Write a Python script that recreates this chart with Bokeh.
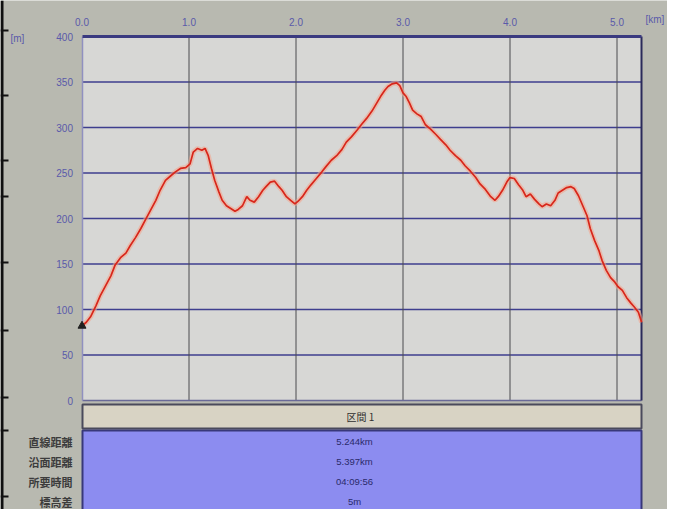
from bokeh.plotting import figure
from bokeh.models import Range1d, FixedTicker, NumeralTickFormatter
from bokeh.embed import file_html
from bokeh.resources import INLINE
from bokeh.core.properties import value

# ---- data ----
dist_km = [0.00, 0.04, 0.08, 0.13, 0.17, 0.22, 0.27, 0.31, 0.36, 0.41, 0.45, 0.50, 0.55, 0.59,
           0.64, 0.69, 0.73, 0.78, 0.83, 0.87, 0.92, 0.97, 1.01, 1.04, 1.08, 1.12, 1.15, 1.18,
           1.21, 1.24, 1.28, 1.31, 1.35, 1.39, 1.43, 1.46, 1.50, 1.54, 1.57, 1.61, 1.65, 1.69,
           1.72, 1.76, 1.80, 1.84, 1.87, 1.91, 1.95, 1.99, 2.02, 2.06, 2.10, 2.14, 2.19, 2.24,
           2.28, 2.33, 2.38, 2.43, 2.47, 2.52, 2.57, 2.61, 2.66, 2.71, 2.75, 2.79, 2.83, 2.86,
           2.90, 2.94, 2.97, 3.00, 3.03, 3.06, 3.09, 3.13, 3.17, 3.21, 3.26, 3.31, 3.35, 3.40,
           3.44, 3.49, 3.54, 3.58, 3.63, 3.68, 3.72, 3.77, 3.82, 3.86, 3.89, 3.93, 3.97, 4.00,
           4.04, 4.08, 4.12, 4.15, 4.19, 4.23, 4.27, 4.30, 4.34, 4.38, 4.42, 4.45, 4.49, 4.53,
           4.57, 4.60, 4.64, 4.68, 4.72, 4.75, 4.79, 4.83, 4.86, 4.90, 4.94, 4.98, 5.01, 5.05,
           5.09, 5.13, 5.16, 5.20, 5.23]
elev_m = [82, 86, 92, 104, 115, 126, 137, 149, 157, 162, 170, 179, 189, 198,
          209, 220, 231, 242, 247, 251, 255, 256, 260, 273, 277, 275, 277, 269,
          255, 242, 229, 220, 214, 211, 208, 210, 214, 224, 220, 218, 224, 231,
          235, 240, 241, 235, 231, 224, 220, 216, 219, 224, 231, 237, 244, 251,
          257, 264, 269, 276, 284, 290, 297, 303, 310, 318, 326, 334, 341, 345,
          348, 349, 346, 338, 334, 327, 319, 315, 312, 303, 298, 292, 287, 281,
          275, 269, 264, 258, 252, 245, 238, 232, 224, 220, 224, 231, 240, 245,
          244, 237, 231, 224, 227, 221, 216, 213, 216, 214, 220, 228, 231, 234,
          235, 233, 225, 214, 203, 189, 176, 165, 154, 143, 135, 130, 125, 121,
          113, 107, 103, 97, 86]
y_ticks = [0, 50, 100, 150, 200, 250, 300, 350, 400]
x_ticks = [0, 1, 2, 3, 4, 5]
section_title = "区間 1"
row_labels = ["直線距離", "沿面距離", "所要時間", "標高差"]
row_values = ["5.244km", "5.397km", "04:09:56", "5m"]
y_unit = "[m]"
x_unit = "[km]"

# ---- layout constants (screen layout expressed in data units) ----
W, H = 667, 509
PX_KM, KM0_PX = 107.0, 81.5          # px per km, px of km 0
PX_M, M0_PX = 0.91, 400.0            # px per m, px of 0 m
def kx(px): return (px - KM0_PX) / PX_KM
def my(py): return (M0_PX - py) / PX_M

CX0, CX1 = kx(82), kx(641)           # chart left / right
YB, YT = y_ticks[0], y_ticks[-1]

p = figure(width=W, height=H, x_range=Range1d(kx(0), kx(W)), y_range=Range1d(my(H), my(0)),
           x_axis_location="above", output_backend="svg", toolbar_location=None,
           min_border_left=0, min_border_right=0, min_border_top=0, min_border_bottom=0)
p.background_fill_color = "#b8b9b0"
p.border_fill_color = "#b8b9b0"
p.outline_line_color = None
p.grid.visible = False

for ax in (p.xaxis[0], p.yaxis[0]):
    ax.axis_line_color = None
    ax.major_tick_line_color = None
    ax.minor_tick_line_color = None
    ax.major_tick_out = 0
    ax.major_tick_in = 0
    ax.minor_tick_out = 0
    ax.major_label_text_color = "#5a5aaa"
    ax.major_label_text_font = "Liberation Sans"
    ax.major_label_text_font_size = "10px"
p.yaxis.ticker = FixedTicker(ticks=y_ticks)
p.xaxis.ticker = FixedTicker(ticks=x_ticks)
p.xaxis.formatter = NumeralTickFormatter(format="0.0")
p.yaxis.fixed_location = x_ticks[0]
p.xaxis.fixed_location = YT
p.yaxis.major_label_standoff = 9
p.xaxis.major_label_standoff = 11

# left page border of the screenshot
p.quad(left=[kx(0)], right=[kx(3)], bottom=[my(H)], top=[my(0)], fill_color="#101010", line_color=None)
stub_py = [30, 95, 160, 196, 262, 330, 397, 430, 496]
p.segment(x0=[kx(0)] * len(stub_py), y0=[my(v) for v in stub_py], x1=[kx(8)] * len(stub_py),
          y1=[my(v) for v in stub_py], line_color="#101010", line_width=2)

# chart area
p.quad(left=[CX0], right=[CX1], bottom=[YB], top=[YT], fill_color="#d7d7d5", line_color=None)
p.segment(x0=[CX0] * 7, y0=y_ticks[1:-1], x1=[CX1] * 7, y1=y_ticks[1:-1],
          line_color="#3e3e8e", line_width=1.6)
p.segment(x0=x_ticks[1:], y0=[YB] * 5, x1=x_ticks[1:], y1=[YT] * 5,
          line_color="#4a4a4e", line_width=1)
p.segment(x0=[CX0], y0=[YB], x1=[CX1], y1=[YB], line_color="#6a6a98", line_width=1.5)
p.segment(x0=[CX0], y0=[YB], x1=[CX0], y1=[YT], line_color="#9090c0", line_width=1.5)
p.segment(x0=[CX1], y0=[YB], x1=[CX1], y1=[YT], line_color="#2a2a5a", line_width=2)
p.segment(x0=[CX0], y0=[YT], x1=[CX1], y1=[YT], line_color="#3a3a80", line_width=3)

# elevation profile (halo + line)
p.line(dist_km, elev_m, line_color="#f4a48c", line_width=5, line_alpha=0.55)
p.line(dist_km, elev_m, line_color="#d8261a", line_width=1.7)
p.scatter([dist_km[0]], [elev_m[0]], marker="triangle", size=8, color="#202020")

# unit labels
p.text(x=[kx(10)], y=[my(38)], text=[y_unit], text_align="left", text_baseline="middle",
       text_font=value("Liberation Sans"), text_font_size="10px", text_color="#5a5aaa")
p.text(x=[kx(645)], y=[my(19)], text=[x_unit], text_align="left", text_baseline="middle",
       text_font=value("Liberation Sans"), text_font_size="10px", text_color="#5a5aaa")

# section table
p.quad(left=[CX0], right=[CX1], top=[my(404)], bottom=[my(428)], fill_color="#d8d3c4",
       line_color="#4a4a5c", line_width=2)
p.quad(left=[CX0], right=[CX1], top=[my(430)], bottom=[my(512)], fill_color="#8c8cf0",
       line_color="#38387a", line_width=2)
p.text(x=[kx(360)], y=[my(416)], text=[section_title], text_align="center",
       text_baseline="middle", text_font=value("Noto Sans CJK JP"), text_font_size="10px",
       text_color="#303030")
row_py = [441, 461, 481, 501]
p.text(x=[kx(354)] * 4, y=[my(v) for v in row_py], text=row_values, text_align="center",
       text_baseline="middle", text_font=value("Liberation Sans"), text_font_size="9.5px",
       text_color="#2a2a6a")
p.text(x=[kx(72)] * 4, y=[my(v) for v in row_py], text=row_labels, text_align="right",
       text_baseline="middle", text_font=value("Noto Sans CJK JP"), text_font_size="11px",
       text_font_style="bold", text_color="#3c3c3c")

open("out.html", "w").write(file_html(p, INLINE))
